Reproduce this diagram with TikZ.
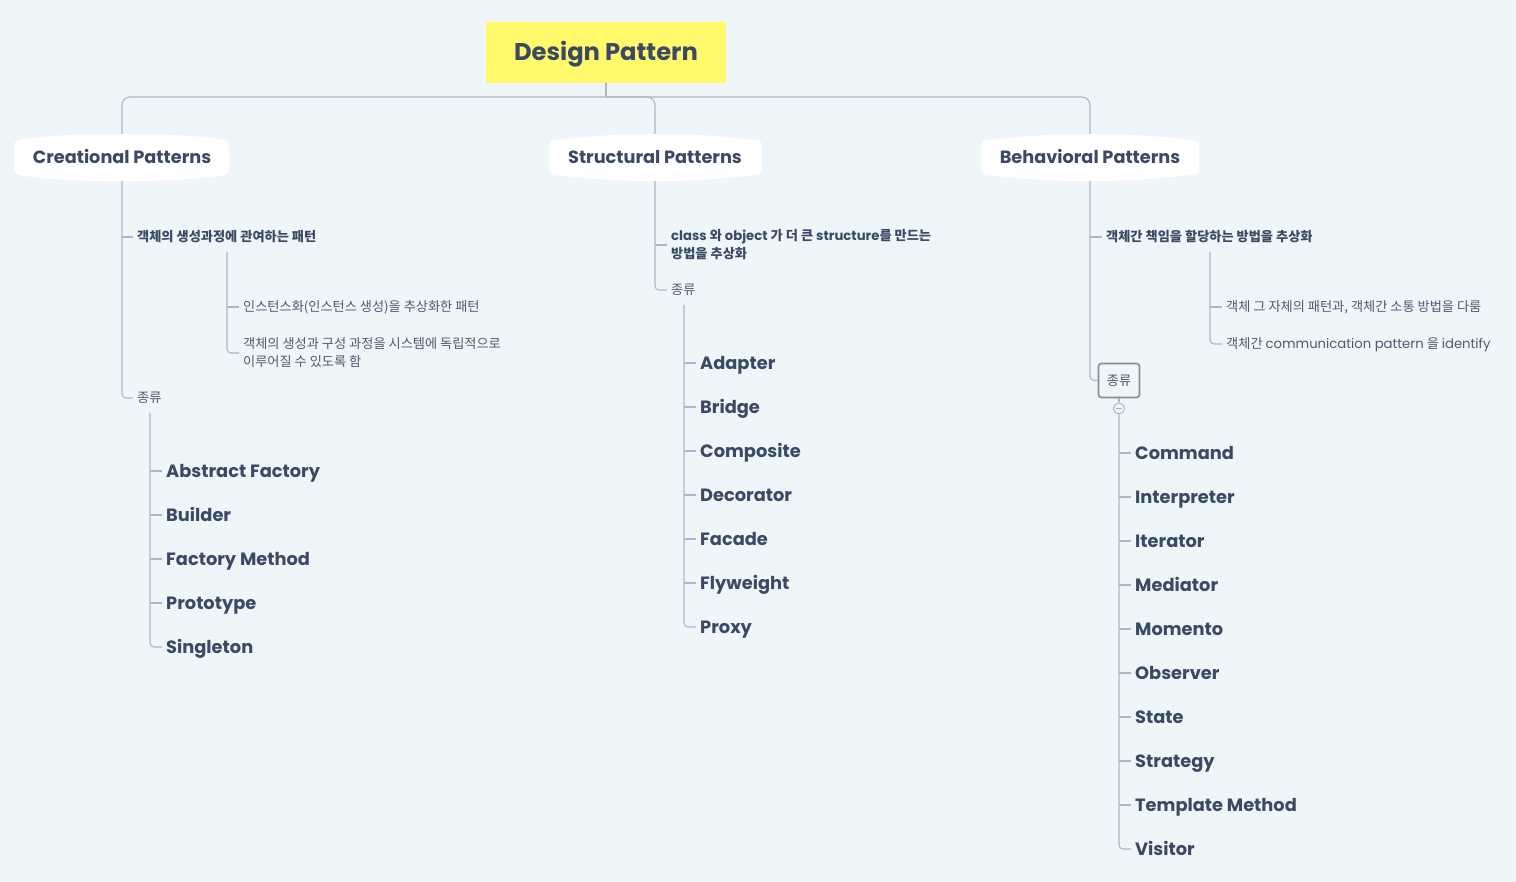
\documentclass[tikz,border=0pt]{standalone}
\usepackage{fontspec}
\setmainfont{Poppins}
\newfontfamily\kr{Noto Sans CJK KR}
\newcommand\latn[1]{{\rmfamily #1}}
\definecolor{bgc}{HTML}{EEF6F9}
\definecolor{ink}{HTML}{3B4965}
\definecolor{ink2}{HTML}{4E5A70}
\definecolor{linec}{HTML}{A9B8C8}
\definecolor{ttl}{HTML}{FFF96B}
\definecolor{boxc}{HTML}{8C8C8C}
\begin{document}
\begin{tikzpicture}[x=1pt,y=-1pt,
  ln/.style={draw=linec, line width=1.1pt},
  hdr/.style={font=\fontsize{17.7}{20}\selectfont\bfseries, text=ink, inner sep=0pt, text height=12.6pt, text depth=0pt, minimum height=47pt},
  item/.style={anchor=west, font=\fontsize{17.8}{20}\selectfont\bfseries, text=ink, inner xsep=4pt, inner ysep=0pt, text height=12.6pt, text depth=0pt},
  note/.style={anchor=west, font=\kr\fontsize{13.2}{18}\selectfont, text=ink2, inner xsep=4pt, inner ysep=0pt, align=left, text height=9.6pt, text depth=0pt},
  twoline/.style={text height=27.6pt, text depth=0pt},
  bnote/.style={note, font=\kr\bfseries\fontsize{13.2}{18}\selectfont, text=ink}
]
\useasboundingbox (0,0) rectangle (1516,882);
\fill[bgc] (0,0) rectangle (1516,882);

% title
\node[fill=ttl, minimum width=240pt, minimum height=61pt, inner sep=0pt, text height=17pt, text depth=0pt,
      font=\fontsize{24.2}{26}\selectfont\bfseries, text=ink] (title) at (606,52.5) {Design Pattern};
\coordinate (hub) at (606,97);

% header barrels
\fill[white, rounded corners=4pt] (14,141) .. controls (60,131.7) and (183,131.7) .. (229,141) -- (229,174) .. controls (183,183.3) and (60,183.3) .. (14,174) -- cycle;
\fill[white, rounded corners=4pt] (549,141) .. controls (620,131.7) and (691,131.7) .. (762,141) -- (762,174) .. controls (691,183.3) and (620,183.3) .. (549,174) -- cycle;
\fill[white, rounded corners=4pt] (981,141) .. controls (1053,131.7) and (1127,131.7) .. (1199,141) -- (1199,174) .. controls (1127,183.3) and (1053,183.3) .. (981,174) -- cycle;

\node[hdr] (cre) at (122,157.5) {Creational Patterns};
\node[hdr] (str) at (655,157.5) {Structural Patterns};
\node[hdr] (beh) at (1090,157.5) {Behavioral Patterns};

\draw[ln] (title.south) -- (hub);
\draw[ln, rounded corners=8pt] (hub) -| (cre.north);
\draw[ln, rounded corners=8pt] (hub) -| (str.north);
\draw[ln, rounded corners=8pt] (hub) -| (beh.north);

% ---------- Creational ----------
\node[bnote] (creA) at (133,237) {객체의 생성과정에 관여하는 패턴};
\node[note] (creA1) at (239,307) {인스턴스화(인스턴스 생성)을 추상화한 패턴};
\node[note, twoline] (creA2) at (239,353) {객체의 생성과 구성 과정을 시스템에 독립적으로\\이루어질 수 있도록 함};
\node[note] (creK) at (133,398) {종류};
\coordinate (creAb) at (227,252);
\coordinate (creKb) at (150,413);
\node[item] (c1) at (162,471) {Abstract Factory};
\node[item] (c2) at (162,515) {Builder};
\node[item] (c3) at (162,559) {Factory Method};
\node[item] (c4) at (162,603) {Prototype};
\node[item] (c5) at (162,647) {Singleton};

\draw[ln, rounded corners=4pt] (cre.south) |- (creK.west);
\draw[ln] (cre.south |- creA.west) -- (creA.west);
\draw[ln, rounded corners=4pt] (creAb) |- (creA2.west);
\draw[ln] (creAb |- creA1.west) -- (creA1.west);
\draw[ln, rounded corners=4pt] (creKb) |- (c5.west);
\foreach \n in {c1,c2,c3,c4} \draw[ln] (creKb |- \n.west) -- (\n.west);

% ---------- Structural ----------
\node[bnote, twoline] (strA) at (667,245) {\latn{class} 와 \latn{object} 가 더 큰 \latn{structure}를 만드는\\방법을 추상화};
\node[note] (strK) at (667,290) {종류};
\coordinate (strKb) at (684,305);
\node[item] (s1) at (696,363) {Adapter};
\node[item] (s2) at (696,407) {Bridge};
\node[item] (s3) at (696,451) {Composite};
\node[item] (s4) at (696,495) {Decorator};
\node[item] (s5) at (696,539) {Facade};
\node[item] (s6) at (696,583) {Flyweight};
\node[item] (s7) at (696,627) {Proxy};

\draw[ln, rounded corners=4pt] (str.south) |- (strK.west);
\draw[ln] (str.south |- strA.west) -- (strA.west);
\draw[ln, rounded corners=4pt] (strKb) |- (s7.west);
\foreach \n in {s1,s2,s3,s4,s5,s6} \draw[ln] (strKb |- \n.west) -- (\n.west);

% ---------- Behavioral ----------
\node[bnote] (behA) at (1102,237) {객체간 책임을 할당하는 방법을 추상화};
\node[note] (behA1) at (1222,307) {객체 그 자체의 패턴과, 객체간 소통 방법을 다룸};
\node[note] (behA2) at (1222,344) {객체간 \latn{communication pattern} 을 \latn{identify}};
\coordinate (behAb) at (1210,252);
\node[draw=boxc, line width=1.6pt, rounded corners=3pt, minimum width=41pt, minimum height=34pt, inner sep=0pt,
      text height=9.6pt, text depth=0pt,
      font=\kr\fontsize{13.2}{15}\selectfont, text=ink2] (behK) at (1119,380.5) {종류};
\node[circle, draw=linec, fill=bgc, line width=1pt, minimum size=11pt, inner sep=0pt] (behC) at (1119,408.5) {};
\draw[draw=linec, line width=1pt] ([xshift=-3pt]behC.center) -- ([xshift=3pt]behC.center);
\node[item] (b1) at (1131,453) {Command};
\node[item] (b2) at (1131,497) {Interpreter};
\node[item] (b3) at (1131,541) {Iterator};
\node[item] (b4) at (1131,585) {Mediator};
\node[item] (b5) at (1131,629) {Momento};
\node[item] (b6) at (1131,673) {Observer};
\node[item] (b7) at (1131,717) {State};
\node[item] (b8) at (1131,761) {Strategy};
\node[item] (b9) at (1131,805) {Template Method};
\node[item] (b10) at (1131,849) {Visitor};

\draw[ln, rounded corners=4pt] (beh.south) |- (behK.west);
\draw[ln] (beh.south |- behA.west) -- (behA.west);
\draw[ln, rounded corners=4pt] (behAb) |- (behA2.west);
\draw[ln] (behAb |- behA1.west) -- (behA1.west);
\draw[ln] (behK.south) -- (behC.north);
\draw[ln, rounded corners=4pt] (behC.south) |- (b10.west);
\foreach \n in {b1,b2,b3,b4,b5,b6,b7,b8,b9} \draw[ln] (behC.south |- \n.west) -- (\n.west);
\end{tikzpicture}
\end{document}
